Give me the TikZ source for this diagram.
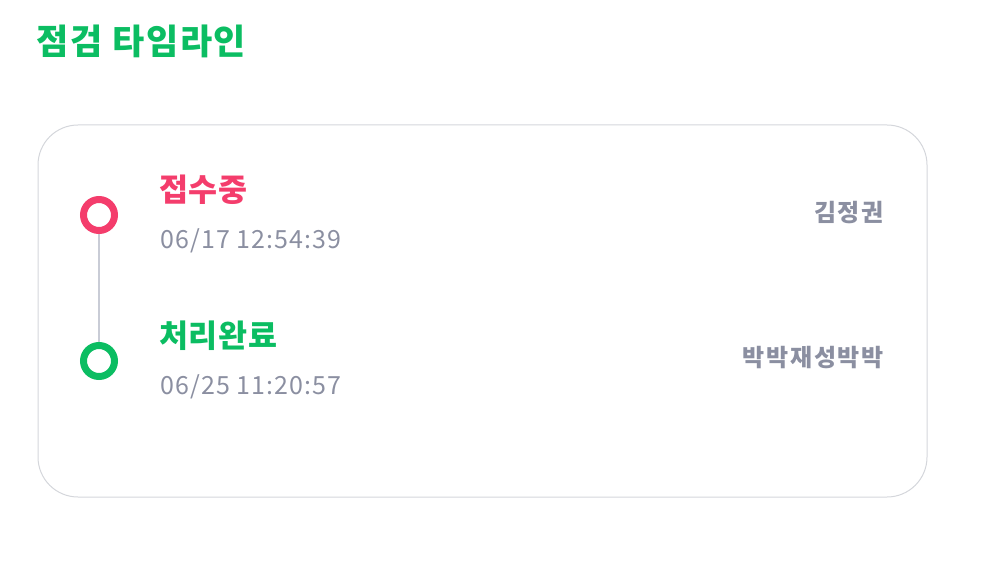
\documentclass[tikz,border=0pt]{standalone}
\usepackage{fontspec}
\setmainfont{Noto Sans CJK KR}
\newfontfamily\kr{Noto Sans CJK KR}
\definecolor{tlgreen}{HTML}{0BBD62}
\definecolor{tlpink}{HTML}{F43D6C}
\definecolor{tlgray}{HTML}{8B8FA1}
\definecolor{tlline}{HTML}{C9CCD6}
\definecolor{tlborder}{HTML}{D4D6DB}
\tikzset{
  title/.style={anchor=west, inner sep=0pt, text=tlgreen, font=\kr\bfseries\fontsize{35}{38}\selectfont\addfontfeature{LetterSpace=5}},
  status/.style={anchor=west, inner sep=0pt, font=\kr\bfseries\fontsize{31.5}{34}\selectfont\addfontfeature{LetterSpace=2}},
  stamp/.style={anchor=west, inner sep=0pt, text=tlgray, font=\kr\fontsize{25}{28}\selectfont\addfontfeature{LetterSpace=4.5}},
  who/.style={anchor=east, inner sep=0pt, text=tlgray, font=\kr\bfseries\fontsize{24}{27}\selectfont\addfontfeature{LetterSpace=7}},
  dot/.style={circle, draw=#1, line width=7pt, minimum size=31pt, inner sep=0pt, fill=white},
  card/.style={draw=tlborder, line width=1pt, rounded corners=40pt},
}
\begin{document}
\begin{tikzpicture}[x=1pt,y=-1pt]
\useasboundingbox (0,0) rectangle (1008,564);
\node[title] (t) at (36,41) {점검 타임라인};
\draw[card] (38,125) rectangle (927,497);
\node[dot=tlpink] (d1) at (99,215) {};
\node[dot=tlgreen] (d2) at (99,361) {};
\draw[tlline, line width=2pt] (d1) -- (d2);
\node[status, text=tlpink] (s1) at (159,190) {접수중};
\node[stamp] (ts1) at (160,241) {06/17 12:54:39};
\node[status, text=tlgreen] (s2) at (159,336) {처리완료};
\node[stamp] (ts2) at (160,387) {06/25 11:20:57};
\node[who] (w1) at (884,213) {김정권};
\node[who] (w2) at (884,358) {박박재성박박};
\end{tikzpicture}
\end{document}
